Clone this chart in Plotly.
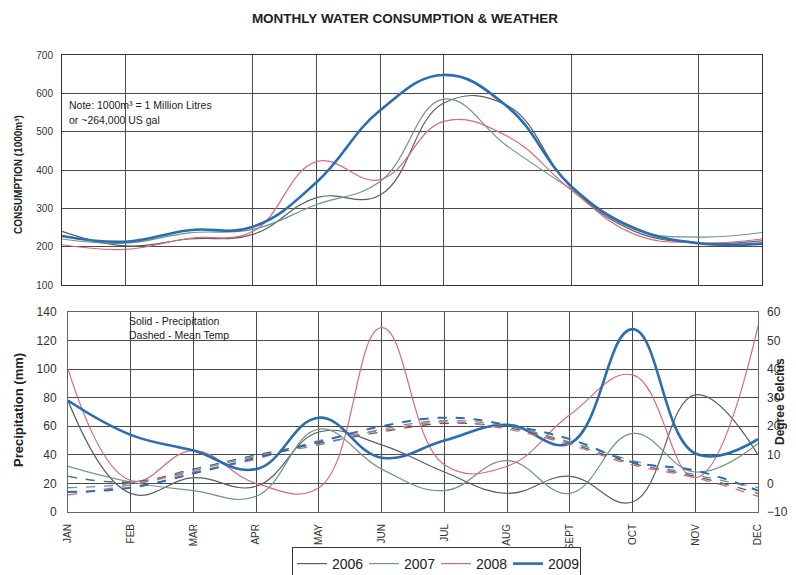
import plotly.graph_objects as go

MONTHS = ["JAN", "FEB", "MAR", "APR", "MAY", "JUN", "JUL", "AUG", "SEPT", "OCT", "NOV", "DEC"]
YEARS = ["2006", "2007", "2008", "2009"]
TOP_GRID_MONTHS = ["FEB", "APR", "MAY", "JUN", "JUL", "SEPT", "NOV"]

# Consumption (1000 m3)
cons_2006 = [240, 202, 220, 232, 328, 335, 575, 568, 355, 240, 210, 215]
cons_2007 = [220, 209, 236, 245, 310, 370, 585, 462, 350, 245, 225, 237]
cons_2008 = [205, 193, 222, 240, 422, 375, 527, 488, 348, 232, 210, 220]
cons_2009 = [228, 213, 243, 252, 368, 556, 648, 565, 358, 248, 209, 208]

# Precipitation (mm)
prec_2006 = [78, 13, 24, 18, 56, 47, 28, 13, 25, 7, 82, 40]
prec_2007 = [32, 21, 15, 11, 58, 30, 15, 36, 13, 55, 28, 48]
prec_2008 = [100, 22, 43, 20, 17, 129, 33, 32, 68, 96, 24, 130]
prec_2009 = [78, 54, 43, 30, 66, 38, 50, 61, 48, 128, 41, 51]

# Mean temperature (deg C)
temp_2006 = [2.5, 0.5, 5.0, 10.0, 14.0, 18.0, 21.0, 19.5, 14.0, 7.0, 2.5, -3.5]
temp_2007 = [-1.5, 0.0, 4.5, 9.5, 13.5, 19.0, 22.0, 20.0, 14.5, 8.0, 3.0, -1.5]
temp_2008 = [-4.0, -0.5, 4.0, 8.5, 15.0, 18.5, 21.5, 19.0, 13.5, 6.5, 2.0, -4.5]
temp_2009 = [-3.0, -1.5, 3.5, 9.0, 14.5, 20.0, 23.0, 20.5, 15.5, 7.5, 4.5, -2.5]

cons = [cons_2006, cons_2007, cons_2008, cons_2009]
prec = [prec_2006, prec_2007, prec_2008, prec_2009]
temp = [temp_2006, temp_2007, temp_2008, temp_2009]

COLORS = ["#5a5f5e", "#6f9585", "#d66a80", "#2b6db3"]
WIDTHS = [1.2, 1.2, 1.2, 2.6]
SMOOTH = 1.2

x = list(range(len(MONTHS)))
FONT = "Liberation Sans, Arial, sans-serif"

fig = go.Figure()

for i, yr in enumerate(YEARS):
    fig.add_trace(go.Scatter(
        x=x, y=cons[i], mode="lines", name=yr, legendgroup=yr, showlegend=False,
        line=dict(color=COLORS[i], width=WIDTHS[i], shape="spline", smoothing=SMOOTH),
        xaxis="x", yaxis="y"))
for i, yr in enumerate(YEARS):
    fig.add_trace(go.Scatter(
        x=x, y=prec[i], mode="lines", name=yr, legendgroup=yr, showlegend=True,
        line=dict(color=COLORS[i], width=WIDTHS[i], shape="spline", smoothing=SMOOTH),
        xaxis="x2", yaxis="y2"))
for i, yr in enumerate(YEARS):
    fig.add_trace(go.Scatter(
        x=x, y=temp[i], mode="lines", name=yr, legendgroup=yr, showlegend=False,
        line=dict(color=COLORS[i], width=2.0 if i == 3 else 1.3, dash="dash",
                  shape="spline", smoothing=SMOOTH),
        xaxis="x2", yaxis="y3"))

# The page body adds an 8px offset, so the figure is 8px smaller and
# screen coordinates are shifted by OFF.
OFF = 8
W, H = 796 - OFF, 575 - OFF
L, R, T, B = 62 - OFF, 796 - 762, 55 - OFF, 575 - 512
pw, ph = W - L - R, H - T - B

def px_x(p):
    return (p - OFF - L) / pw

def px_y(p):
    return (H - B - (p - OFF)) / ph

GRID = "#4a4a4a"

fig.update_layout(
    width=W, height=H,
    margin=dict(l=L, r=R, t=T, b=B, autoexpand=False),
    paper_bgcolor="white", plot_bgcolor="white",
    font=dict(family=FONT, color="#222", size=11),
    title=dict(text="<b>MONTHLY WATER CONSUMPTION &amp; WEATHER</b>",
               x=px_x(405), xanchor="center", y=1 - (18 - OFF) / H, yanchor="middle",
               xref="paper", font=dict(family=FONT, size=13.5, color="#222")),
    xaxis=dict(domain=[0, 1], anchor="y", range=[0, 11],
               tickvals=[MONTHS.index(m) for m in TOP_GRID_MONTHS],
               showticklabels=False, ticks="", showgrid=True, gridcolor=GRID, gridwidth=1,
               showline=True, linecolor="#333", linewidth=1, mirror=True, zeroline=False),
    yaxis=dict(domain=[px_y(285), 1], anchor="x", range=[100, 700], dtick=100,
               showgrid=True, gridcolor=GRID, gridwidth=1, ticks="",
               tickfont=dict(size=10, color="#333"), ticklabelstandoff=6,
               showline=True, linecolor="#333", linewidth=1, mirror=True, zeroline=False),
    xaxis2=dict(domain=[px_x(68), px_x(758)], anchor="y2", range=[0, 11],
                tickvals=x, ticktext=MONTHS, tickangle=-90,
                tickfont=dict(size=10, color="#333"), ticks="", ticklabelstandoff=7,
                showgrid=True, gridcolor=GRID, gridwidth=1,
                showline=True, linecolor="#666", linewidth=1, mirror=True, zeroline=False),
    yaxis2=dict(domain=[0, px_y(312)], anchor="x2", range=[0, 140], dtick=20,
                showgrid=True, gridcolor=GRID, gridwidth=1, ticks="",
                tickfont=dict(size=12, color="#333"), ticklabelstandoff=8,
                showline=True, linecolor="#666", linewidth=1, mirror=True, zeroline=False),
    yaxis3=dict(overlaying="y2", anchor="x2", side="right", range=[-10, 60], dtick=10,
                showgrid=False, ticks="", tickfont=dict(size=12, color="#333"),
                ticklabelstandoff=8, zeroline=False, showline=False),
    legend=dict(orientation="h", x=px_x(292), xanchor="left", y=px_y(547), yanchor="top",
                bordercolor="#333", borderwidth=1, bgcolor="white",
                font=dict(size=14, color="#222"), entrywidth=27, entrywidthmode="pixels",
                itemwidth=30, tracegroupgap=0),
    showlegend=True,
)

annos = [
    dict(text="<b>CONSUMPTION (1000m³)</b>", x=px_x(18), y=px_y(175), textangle=-90,
         font=dict(size=10, color="#222")),
    dict(text="<b>Precipitation (mm)</b>", x=px_x(18), y=px_y(410), textangle=-90,
         font=dict(size=13, color="#222")),
    dict(text="<b>Degree Celcius</b>", x=px_x(780), y=px_y(402), textangle=-90,
         font=dict(size=12, color="#222")),
    dict(text="Note: 1000m³ = 1 Million Litres", x=px_x(67), y=px_y(105), xanchor="left",
         font=dict(size=10.5, color="#222")),
    dict(text="or ~264,000 US gal", x=px_x(67), y=px_y(120), xanchor="left",
         font=dict(size=10.5, color="#222")),
    dict(text="Solid - Precipitation", x=px_x(127), y=px_y(321), xanchor="left",
         font=dict(size=10.5, color="#222")),
    dict(text="Dashed - Mean Temp", x=px_x(127), y=px_y(335), xanchor="left",
         font=dict(size=10.5, color="#222")),
]
for a in annos:
    a.update(xref="paper", yref="paper", showarrow=False, yanchor="middle")
    a.setdefault("xanchor", "center")
    fig.add_annotation(**a)

fig.write_html("out.html")
